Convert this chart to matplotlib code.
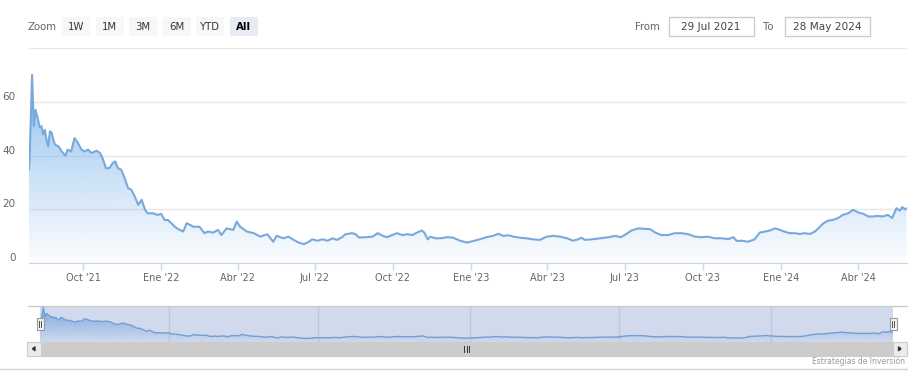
import numpy as np
import pandas as pd
import matplotlib
matplotlib.use('Agg')
import matplotlib.pyplot as plt
import matplotlib.dates as mdates
from matplotlib.patches import Rectangle
from matplotlib.colors import to_rgb
from matplotlib.transforms import ScaledTranslation

# price series
dates = ['2021-07-29', '2021-07-30', '2021-08-02', '2021-08-04', '2021-08-06', '2021-08-09',
         '2021-08-11', '2021-08-13', '2021-08-15', '2021-08-17', '2021-08-19', '2021-08-21',
         '2021-08-23', '2021-08-25', '2021-08-27', '2021-08-29', '2021-09-02', '2021-09-06',
         '2021-09-10', '2021-09-13', '2021-09-17', '2021-09-21', '2021-09-25', '2021-09-29',
         '2021-10-03', '2021-10-07', '2021-10-11', '2021-10-17', '2021-10-21', '2021-10-24',
         '2021-10-28', '2021-11-01', '2021-11-05', '2021-11-08', '2021-11-11', '2021-11-15',
         '2021-11-19', '2021-11-23', '2021-11-27', '2021-12-01', '2021-12-05', '2021-12-09',
         '2021-12-13', '2021-12-16', '2021-12-22', '2021-12-28', '2022-01-01', '2022-01-05',
         '2022-01-09', '2022-01-13', '2022-01-17', '2022-01-21', '2022-01-27', '2022-01-31',
         '2022-02-04', '2022-02-08', '2022-02-15', '2022-02-21', '2022-02-25', '2022-03-03',
         '2022-03-09', '2022-03-13', '2022-03-19', '2022-03-27', '2022-03-31', '2022-04-04',
         '2022-04-12', '2022-04-20', '2022-04-28', '2022-05-06', '2022-05-13', '2022-05-17',
         '2022-05-25', '2022-05-31', '2022-06-06', '2022-06-12', '2022-06-18', '2022-06-24',
         '2022-06-28', '2022-07-04', '2022-07-10', '2022-07-16', '2022-07-22', '2022-07-27',
         '2022-08-02', '2022-08-06', '2022-08-14', '2022-08-18', '2022-08-22', '2022-08-30',
         '2022-09-07', '2022-09-13', '2022-09-19', '2022-09-24', '2022-09-30', '2022-10-06',
         '2022-10-12', '2022-10-18', '2022-10-24', '2022-10-30', '2022-11-04', '2022-11-07',
         '2022-11-11', '2022-11-14', '2022-11-20', '2022-11-26', '2022-12-04', '2022-12-11',
         '2022-12-19', '2022-12-27', '2023-01-04', '2023-01-11', '2023-01-19', '2023-01-27',
         '2023-02-02', '2023-02-08', '2023-02-14', '2023-02-20', '2023-02-28', '2023-03-07',
         '2023-03-15', '2023-03-23', '2023-03-27', '2023-03-31', '2023-04-08', '2023-04-16',
         '2023-04-24', '2023-05-01', '2023-05-07', '2023-05-11', '2023-05-15', '2023-05-23',
         '2023-06-02', '2023-06-12', '2023-06-20', '2023-06-26', '2023-07-01', '2023-07-09',
         '2023-07-17', '2023-07-25', '2023-07-31', '2023-08-06', '2023-08-13', '2023-08-21',
         '2023-08-29', '2023-09-06', '2023-09-14', '2023-09-22', '2023-09-29', '2023-10-07',
         '2023-10-15', '2023-10-23', '2023-10-31', '2023-11-06', '2023-11-10', '2023-11-16',
         '2023-11-23', '2023-12-01', '2023-12-07', '2023-12-13', '2023-12-19', '2023-12-25',
         '2023-12-31', '2024-01-05', '2024-01-11', '2024-01-17', '2024-01-23', '2024-01-29',
         '2024-02-04', '2024-02-10', '2024-02-14', '2024-02-20', '2024-02-26', '2024-03-02',
         '2024-03-08', '2024-03-14', '2024-03-20', '2024-03-26', '2024-04-01', '2024-04-07',
         '2024-04-13', '2024-04-18', '2024-04-24', '2024-04-30', '2024-05-06', '2024-05-11',
         '2024-05-16', '2024-05-20', '2024-05-23', '2024-05-26', '2024-05-28']
values = [34.7, 37.8, 70.0, 50.9, 57.0, 53.4,
          50.4, 50.9, 47.8, 49.6, 45.9, 43.4,
          49.0, 48.5, 45.9, 44.0, 43.4, 41.5,
          39.9, 42.2, 41.5, 46.5, 44.7, 42.2,
          41.5, 42.2, 40.9, 41.8, 40.9, 39.0,
          35.3, 35.3, 37.2, 37.8, 35.3, 34.7,
          31.6, 27.9, 27.2, 24.7, 21.6, 23.5,
          19.8, 18.5, 18.5, 17.9, 18.3, 16.0,
          16.0, 14.8, 13.5, 12.6, 11.7, 14.8,
          14.2, 13.5, 13.5, 11.1, 11.7, 11.3,
          12.3, 10.4, 12.9, 12.3, 15.4, 13.5,
          11.7, 11.1, 9.8, 10.7, 7.9, 10.1,
          9.2, 9.8, 8.6, 7.6, 7.0, 7.9,
          8.8, 8.3, 8.8, 8.3, 9.2, 8.6,
          9.6, 10.7, 11.1, 10.7, 9.5, 9.6,
          9.8, 11.1, 10.1, 9.6, 10.4, 11.1,
          10.4, 10.7, 10.4, 11.4, 12.1, 11.3,
          8.8, 9.8, 9.2, 9.2, 9.6, 9.4,
          8.3, 7.6, 8.2, 8.8, 9.6, 10.1,
          10.9, 10.1, 10.3, 9.8, 9.4, 9.2,
          8.8, 8.6, 9.2, 9.8, 10.1, 9.8,
          9.2, 8.3, 8.8, 9.4, 8.6, 8.8,
          9.2, 9.6, 10.1, 9.6, 10.4, 12.1,
          12.9, 12.7, 12.6, 11.3, 10.4, 10.4,
          11.1, 11.1, 10.7, 9.8, 9.6, 9.8,
          9.2, 9.2, 8.9, 9.6, 8.2, 8.3,
          7.9, 8.8, 11.3, 11.7, 12.1, 12.9,
          12.3, 11.7, 11.1, 11.1, 10.8, 11.1,
          10.8, 11.7, 12.9, 14.8, 15.8, 16.0,
          16.7, 17.9, 18.5, 19.8, 18.8, 18.3,
          17.3, 17.3, 17.5, 17.3, 17.9, 16.7,
          20.4, 19.5, 20.8, 20.0, 20.3]

meses = ['Ene', 'Feb', 'Mar', 'Abr', 'May', 'Jun', 'Jul', 'Ago', 'Sep', 'Oct', 'Nov', 'Dic']
y_ticks = [0, 20, 40, 60, 80]
zoom_buttons = ['1W', '1M', '3M', '6M', 'YTD', 'All']
from_text = '29 Jul 2021'
to_text = '28 May 2024'

W, H = 914, 380
fig = plt.figure(figsize=(W / 100, H / 100), dpi=100)
plt.rcParams['font.family'] = ['DejaVu Sans']


def box(x0, y0, x1, y1):
    return [x0 / W, 1 - y1 / H, (x1 - x0) / W, (y1 - y0) / H]


def month_label(v, pos=None):
    d = mdates.num2date(v)
    return "%s '%02d" % (meses[d.month - 1], d.year % 100)


xs = mdates.date2num(pd.to_datetime(dates))
ys = np.array(values)
color = '#7cb5ec'


def gradient_area(ax, top, lw, a_top):
    poly = ax.fill_between(xs, ys, 0, facecolor='none', edgecolor='none')
    grad = np.zeros((256, 1, 4))
    grad[:, :, :3] = to_rgb(color)
    grad[:, 0, 3] = np.linspace(a_top, 0.02, 256)
    im = ax.imshow(grad, aspect='auto', origin='upper', zorder=1,
                   extent=[xs[0], xs[-1], 0, top], interpolation='bilinear')
    im.set_clip_path(poly.get_paths()[0], ax.transData)
    ax.plot(xs, ys, color='#79a9db', lw=lw, zorder=2, solid_joinstyle='round')
    ax.set_xlim(xs[0], xs[-1])


# main chart
ax = fig.add_axes(box(28.7, 48, 906.6, 263))
gradient_area(ax, ys.max(), 1.5, 0.85)
ax.set_ylim(0, 80)
ax.set_yticks(y_ticks)
ax.tick_params(axis='y', length=0, labelleft=False)
ax.grid(axis='y', color='#e6e6e6', lw=1)
ax.set_axisbelow(True)
for s in ['top', 'right', 'left']:
    ax.spines[s].set_visible(False)
ax.spines['bottom'].set_color('#ccd6eb')
ax.xaxis.set_major_locator(mdates.MonthLocator(bymonth=[1, 4, 7, 10]))
ax.xaxis.set_major_formatter(plt.FuncFormatter(month_label))
ax.tick_params(axis='x', color='#ccd6eb', length=5, width=1, pad=2.5,
               labelsize=7, labelcolor='#666666')
lab_off = ScaledTranslation(-0.13, 0.05, fig.dpi_scale_trans)
for v in y_ticks[:-1]:
    ax.text(0, v, str(v), transform=ax.get_yaxis_transform() + lab_off,
            ha='right', va='center', fontsize=7.5, color='#666666')

# navigator
nav = fig.add_axes(box(40, 306, 893, 342))
nav_loc = mdates.MonthLocator(bymonth=[1, 7])
nav.xaxis.set_major_locator(nav_loc)
nav.grid(axis='x', color='#e6e6e6', lw=1)
nav.set_axisbelow(True)
gradient_area(nav, ys.max(), 1.0, 0.95)
nav.set_ylim(0, ys.max() * 1.03)
nav.tick_params(length=0, labelbottom=False, labelleft=False)
for s in nav.spines.values():
    s.set_visible(False)
nav.add_patch(Rectangle((0, 0), 1, 1, transform=nav.transAxes, zorder=3,
                        facecolor=(102 / 255, 133 / 255, 194 / 255, 0.3), edgecolor='none'))
nav_off = ScaledTranslation(0.03, 0.06, fig.dpi_scale_trans)
for t in mdates.date2num(nav_loc.tick_values(mdates.num2date(xs[0]), mdates.num2date(xs[-1]))):
    if xs[0] < t < xs[-1]:
        nav.text(t, 0, month_label(t), transform=nav.get_xaxis_transform() + nav_off,
                 ha='left', va='bottom', fontsize=6.5, color='#8d95a5', zorder=4)

# UI chrome: range selector, inputs, scrollbar, credit
ui = fig.add_axes([0, 0, 1, 1], zorder=5)
ui.set_xlim(0, W)
ui.set_ylim(H, 0)
ui.axis('off')

ui.text(28, 26.5, 'Zoom', ha='left', va='center', fontsize=7.3, color='#666666')
for i, b in enumerate(zoom_buttons):
    x0 = 62 + i * 33.5
    sel = b == 'All'
    ui.add_patch(Rectangle((x0, 16.7), 28, 19.3, facecolor='#e6ebf5' if sel else '#f7f7f7',
                           edgecolor='none'))
    ui.text(x0 + 14, 26.5, b, ha='center', va='center', fontsize=7.3,
            color='#000000' if sel else '#333333', fontweight='bold' if sel else 'normal')

ui.text(635.5, 26.5, 'From', ha='left', va='center', fontsize=7.3, color='#666666')
ui.text(763, 26.5, 'To', ha='left', va='center', fontsize=7.3, color='#666666')
for x0, x1, t in [(668.5, 753.5, from_text), (784.5, 869.5, to_text)]:
    ui.add_patch(Rectangle((x0, 16.7), x1 - x0, 19.3, facecolor='white',
                           edgecolor='#cccccc', lw=1))
    ui.text((x0 + x1) / 2, 26.5, t, ha='center', va='center', fontsize=7.6, color='#444444')

ui.plot([28, 906.6], [305.5, 305.5], color='#cccccc', lw=1)
# handles
for hx in [40, 893]:
    ui.add_patch(Rectangle((hx - 3.5, 317.5), 7, 12.5, facecolor='#f2f2f2',
                           edgecolor='#999999', lw=0.8, zorder=6))
    for dx in (-1, 1):
        ui.plot([hx + dx, hx + dx], [320.5, 327], color='#333333', lw=0.6, zorder=7)

# scrollbar
ui.add_patch(Rectangle((27, 342), 879.6, 13.7, facecolor='#f2f2f2', edgecolor='none'))
ui.add_patch(Rectangle((40, 342), 853, 13.7, facecolor='#cccccc', edgecolor='#cccccc', lw=0.8))
for bx in [27, 893]:
    ui.add_patch(Rectangle((bx, 342), 13.6, 13.7, facecolor='#ebebeb', edgecolor='#cccccc', lw=0.8))
ui.fill([32.5, 35, 35], [348.8, 346.8, 350.8], color='#333333')
ui.fill([901, 898.5, 898.5], [348.8, 346.8, 350.8], color='#333333')
for gx in (-2.5, 0, 2.5):
    ui.plot([466.5 + gx, 466.5 + gx], [346, 351.5], color='#333333', lw=0.7)

ui.text(905, 361.5, 'Estrategias de Inversión', ha='right', va='center',
        fontsize=5.5, color='#999999')
ui.plot([0, 907], [368.5, 368.5], color='#ccd3e3', lw=1)

fig.savefig('out.png', dpi=100)
